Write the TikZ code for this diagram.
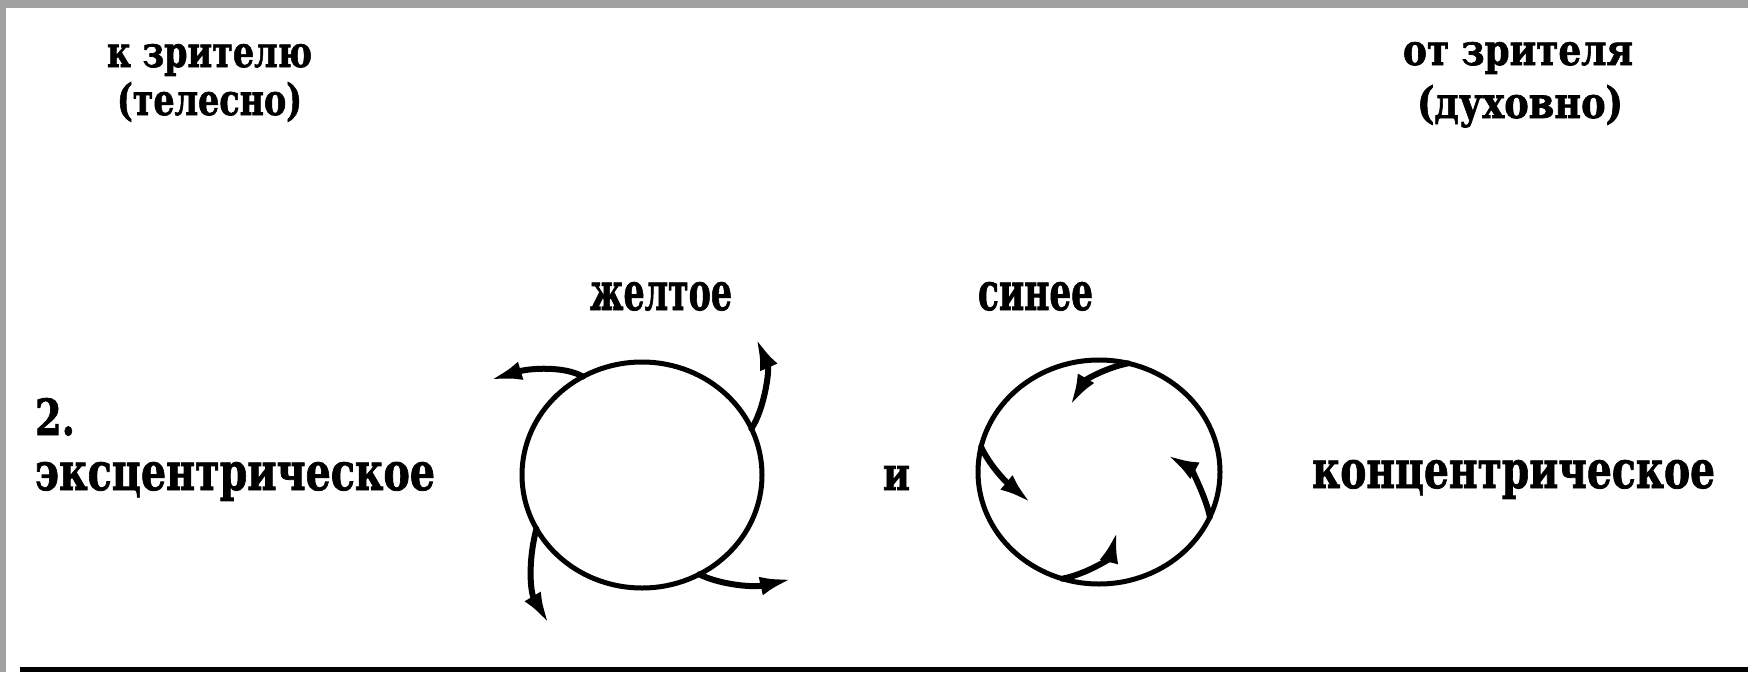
\documentclass[tikz,border=0pt]{standalone}
\usepackage{fontspec}
\setmainfont{DejaVu Serif}[BoldFeatures={FakeBold=1.6}]
\usepackage{graphicx}
\usetikzlibrary{arrows.meta,shapes.geometric}
\begin{document}
\begin{tikzpicture}[x=1pt,y=-1pt,
  lbl/.style={anchor=base west,inner sep=0pt,outer sep=0pt,font=\bfseries},
  ring/.style={draw,ellipse,line width=5pt,inner sep=0pt,outer sep=0pt},
  swirl/.style={line width=6pt,line cap=round,-{Latex[length=32pt,width=19pt]}}]
\useasboundingbox (0,0) rectangle (1748,672);
\fill[white] (0,0) rectangle (1748,672);
% grey frame
\fill[black!37] (0,0) rectangle (1748,8);
\fill[black!37] (0,0) rectangle (6,672);
% bottom rule
\coordinate (r1) at (20,669);
\coordinate (r2) at (1748,669);
\draw[line width=5pt] (r1) -- (r2);
% labels
\node[lbl] (t1) at (107,67) {\resizebox{205pt}{23pt}{к зрителю}};
\node[lbl] (t2) at (117,115) {\resizebox{185pt}{33pt}{(телесно)}};
\node[lbl] (t3) at (1403,65) {\resizebox{230pt}{23pt}{от зрителя}};
\node[lbl] (t4) at (1417,118) {\resizebox{206pt}{33pt}{(духовно)}};
\node[lbl] (y) at (590,310) {\resizebox{142pt}{28pt}{желтое}};
\node[lbl] (b) at (978,310) {\resizebox{115pt}{28pt}{синее}};
\node[lbl] (n2) at (35,435) {\resizebox{40pt}{37pt}{2.}};
\node[lbl] (ex) at (35,490) {\resizebox{400pt}{28pt}{эксцентрическое}};
\node[lbl] (i) at (883,490) {\resizebox{27pt}{24pt}{и}};
\node[lbl] (con) at (1312,488) {\resizebox{403pt}{28pt}{концентрическое}};
% circles
\node[ring,minimum width=240pt,minimum height=226pt] (L) at (642,475) {};
\node[ring,minimum width=242pt,minimum height=224pt] (R) at (1099,472) {};
% outward arrows (yellow)
\coordinate (la) at (490,380);
\coordinate (lb) at (756,338);
\coordinate (lc) at (549,624);
\coordinate (ld) at (792,579);
\draw[swirl] (L.121) .. controls (565,366) and (530,368) .. (la);
\draw[swirl] (L.23) .. controls (764,410) and (770,370) .. (lb);
\draw[swirl] (L.207) .. controls (528,560) and (530,592) .. (lc);
\draw[swirl] (L.300) .. controls (718,584) and (752,588) .. (ld);
% inward arrows (blue)
\coordinate (ra) at (1070,406);
\coordinate (rb) at (1031,503);
\coordinate (rc) at (1117,531);
\coordinate (rd) at (1167,455);
\draw[swirl] (R.75) .. controls (1105,368) and (1085,380) .. (ra);
\draw[swirl] (R.168) .. controls (990,466) and (1006,482) .. (rb);
\draw[swirl] (R.251) .. controls (1087,574) and (1110,558) .. (rc);
\draw[swirl] (R.338) .. controls (1205,494) and (1190,468) .. (rd);
\end{tikzpicture}
\end{document}
